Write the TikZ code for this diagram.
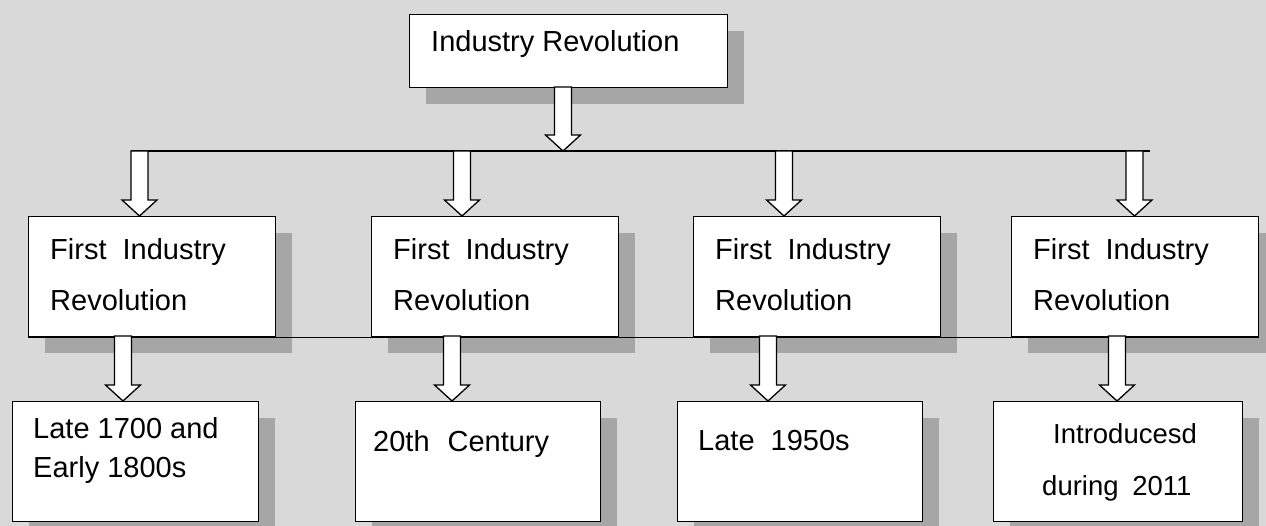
\documentclass[tikz,border=0pt]{standalone}
\usepackage{fontspec}
\setmainfont{Liberation Sans}
\usetikzlibrary{shadows,calc}
\definecolor{bg}{RGB}{217,217,217}
\definecolor{sh}{RGB}{166,166,166}
\newcommand\blockarrow[2]{%
  \draw[barrow] let \p1=(#1), \p2=(#2) in
    (\x1-8.5pt,\y1) -- (\x1-8.5pt,\y2+16pt) -- (\x1-17.5pt,\y2+16pt) -- (\x1,\y2)
    -- (\x1+17.5pt,\y2+16pt) -- (\x1+8.5pt,\y2+16pt) -- (\x1+8.5pt,\y1) -- cycle;}
\begin{document}
\begin{tikzpicture}[x=1pt,y=-1pt,
  box/.style={draw=black, line width=1.3pt, fill=white, rectangle, inner sep=0pt,
    anchor=north west, minimum height=120pt,
    drop shadow={shadow xshift=16pt, shadow yshift=-16pt, fill=sh, opacity=1}},
  txt/.style={anchor=base west, inner sep=0pt, font=\fontsize{29}{34}\selectfont},
  smalltxt/.style={txt, font=\fontsize{27.5}{32}\selectfont},
  bus/.style={draw=black, line width=1.3pt},
  barrow/.style={draw=black, line width=1.3pt, fill=white, line join=miter}]
\fill[bg] (0,0) rectangle (1266,526);
\useasboundingbox (0,0) rectangle (1266,526);
% boxes
\node[box, minimum width=318pt, minimum height=73pt] (top) at (409,14) {};
\node[box, minimum width=247pt] (r2a) at (28,216) {};
\node[box, minimum width=247pt] (r2b) at (371,216) {};
\node[box, minimum width=247pt] (r2c) at (693,216) {};
\node[box, minimum width=247pt] (r2d) at (1011,216) {};
\node[box, minimum width=246pt] (b1) at (12,401) {};
\node[box, minimum width=245pt] (b2) at (355,401) {};
\node[box, minimum width=245pt] (b3) at (677,401) {};
\node[box, minimum width=249pt] (b4) at (993,401) {};
% buses
\coordinate (busL) at (131,151);
\coordinate (busR) at (1150,151);
\draw[bus] (busL) -- (busR);
\draw[bus] (r2a.south west) -- (r2d.south east);
% arrows
\coordinate (a0) at (563,87);
\blockarrow{a0}{a0 |- busL}
\coordinate (p1) at (139.5,151);
\coordinate (p2) at (462,151);
\coordinate (p3) at (784,151);
\coordinate (p4) at (1134.5,151);
\blockarrow{p1}{p1 |- r2a.north}
\blockarrow{p2}{p2 |- r2b.north}
\blockarrow{p3}{p3 |- r2c.north}
\blockarrow{p4}{p4 |- r2d.north}
\coordinate (q1) at (123,336);
\coordinate (q2) at (452,336);
\coordinate (q3) at (768,336);
\coordinate (q4) at (1117,336);
\blockarrow{q1}{q1 |- b1.north}
\blockarrow{q2}{q2 |- b2.north}
\blockarrow{q3}{q3 |- b3.north}
\blockarrow{q4}{q4 |- b4.north}
% texts
\node[txt] (ttop) at (431,52) {Industry Revolution};
\node[txt] (ta1) at (50,260) {First~~Industry};
\node[txt] (ta2) at (50,311) {Revolution};
\node[txt] (tb1) at (393,260) {First~~Industry};
\node[txt] (tb2) at (393,311) {Revolution};
\node[txt] (tc1) at (715,260) {First~~Industry};
\node[txt] (tc2) at (715,311) {Revolution};
\node[txt] (td1) at (1033,260) {First~~Industry};
\node[txt] (td2) at (1033,311) {Revolution};
\node[txt] (u1a) at (33,438) {Late 1700 and};
\node[txt] (u1b) at (33,477) {Early 1800s};
\node[txt] (u2) at (373,451) {20th\hspace{0.62em}Century};
\node[txt] (u3) at (698,450) {Late~~1950s};
\node[smalltxt] (u4a) at (1053,443) {Introducesd};
\node[smalltxt] (u4b) at (1042,495) {during\hspace{0.5em}2011};
\end{tikzpicture}
\end{document}
